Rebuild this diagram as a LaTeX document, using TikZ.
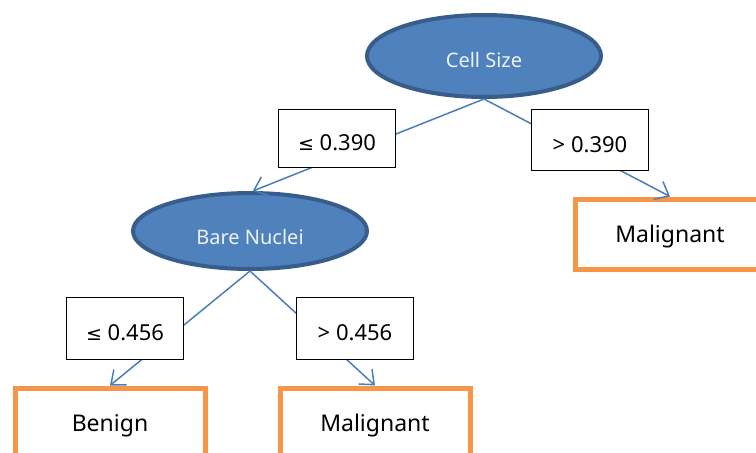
\documentclass[tikz,border=0pt]{standalone}
\usepackage{fontspec}
\setmainfont{Noto Sans}
\newfontfamily\symfont{DejaVu Sans}
\usetikzlibrary{arrows.meta,shapes.geometric}
\definecolor{nodeblue}{HTML}{4F81BD}
\definecolor{rimblue}{HTML}{385D8A}
\definecolor{lineblue}{HTML}{4A7EBB}
\definecolor{leaforange}{HTML}{F79646}
\newcommand{\leqsym}{{\symfont\fontsize{19}{24}\selectfont ≤}}
\tikzstyle{decision}=[
	ellipse,
	line width=4pt,
	draw=rimblue,
	fill=nodeblue,
	text=white!90!nodeblue,
	minimum width=234pt,
	text height=22pt,
	text depth=0pt,
	font=\fontsize{20}{24}\selectfont
]
\tikzstyle{leaf}=[
	rectangle,
	line width=5pt,
	draw=leaforange,
	fill=white,
	minimum width=190pt,
	minimum height=70pt,
	text height=17pt,
	text depth=0pt,
	font=\fontsize{23}{27}\selectfont
]
\tikzstyle{cond}=[
	rectangle,
	draw=black,
	line width=1pt,
	fill=white,
	minimum width=117pt,
	minimum height=58pt,
	text height=25pt,
	text depth=0pt,
	font=\fontsize{22}{26}\selectfont
]
\tikzstyle{branch}=[
	-{Straight Barb[length=12pt,width=20pt]},
	line width=1.5pt,
	draw=lineblue
]

\begin{document}
\begin{tikzpicture}[x=1pt,y=-1pt]
\useasboundingbox (0,0) rectangle (756,453);
\node [decision, minimum height=82pt] (CellSize) at (484,56) {Cell Size};
\node [decision, minimum height=76pt, text height=27pt] (BareNuclei) at (250,231) {Bare Nuclei};
\node [leaf] (MalignantA) at (670,234) {Malignant};
\node [leaf] (Benign) at (110,423) {Benign};
\node [leaf] (MalignantB) at (375,423) {Malignant};

\draw [branch] (CellSize.south) -- (BareNuclei.86);
\draw [branch] (CellSize.south) -- (MalignantA.north);
\draw [branch] (BareNuclei.south) -- (Benign.north);
\draw [branch] (BareNuclei.south) -- (MalignantB.north);

\node [cond] (LeqCell) at (337,138) {\leqsym{} 0.390};
\node [cond, minimum height=61pt] (GtCell) at (590,140) {> 0.390};
\node [cond, minimum height=62pt] (LeqNuclei) at (125,328) {\leqsym{} 0.456};
\node [cond, minimum height=62pt] (GtNuclei) at (355,328) {> 0.456};
\end{tikzpicture}
\end{document}
